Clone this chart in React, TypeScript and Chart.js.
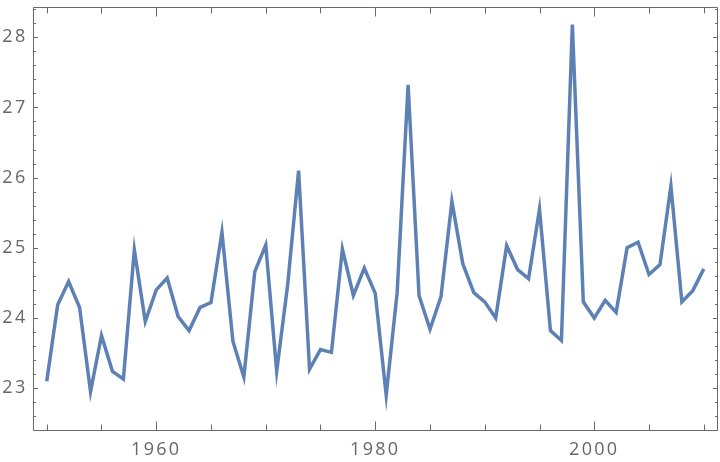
import React, { useEffect, useRef } from "react";
import { Chart, registerables } from "chart.js";

Chart.register(...registerables);

const years: number[] = [
  1950, 1951, 1952, 1953, 1954, 1955, 1956, 1957, 1958, 1959,
  1960, 1961, 1962, 1963, 1964, 1965, 1966, 1967, 1968, 1969,
  1970, 1971, 1972, 1973, 1974, 1975, 1976, 1977, 1978, 1979,
  1980, 1981, 1982, 1983, 1984, 1985, 1986, 1987, 1988, 1989,
  1990, 1991, 1992, 1993, 1994, 1995, 1996, 1997, 1998, 1999,
  2000, 2001, 2002, 2003, 2004, 2005, 2006, 2007, 2008, 2009, 2010,
];

const values: number[] = [
  23.1, 24.19, 24.52, 24.15, 22.95, 23.75, 23.24, 23.13, 24.97, 23.95,
  24.4, 24.57, 24.02, 23.82, 24.15, 24.22, 25.22, 23.67, 23.16, 24.66,
  25.04, 23.24, 24.47, 26.1, 23.27, 23.55, 23.51, 24.98, 24.32, 24.71,
  24.35, 22.9, 24.36, 27.32, 24.32, 23.84, 24.3, 25.66, 24.77, 24.36,
  24.23, 24.0, 25.03, 24.69, 24.56, 25.55, 23.82, 23.68, 28.18, 24.23,
  24.0, 24.25, 24.08, 25.0, 25.08, 24.62, 24.76, 25.88, 24.23, 24.39, 24.7,
];

const xMajorTicks: number[] = [1960, 1980, 2000];
const xMinorTicks: number[] = [1950, 1955, 1965, 1970, 1975, 1985, 1990, 1995, 2005, 2010];
const yMajorTicks: number[] = [23, 24, 25, 26, 27, 28];
const yMinorTicks: number[] = [];
for (let v = 22.4; v <= 28.41; v += 0.2) {
  const r = Math.round(v * 10) / 10;
  if (Math.abs(r - Math.round(r)) > 1e-6) yMinorTicks.push(r);
}

const LINE_COLOR = "#5E81B5";
const FRAME_COLOR = "#6a6a6a";
const LABEL_COLOR = "#666666";

const spacingPlugin = {
  id: "letterSpacing",
  beforeDraw(chart: any) {
    chart.ctx.letterSpacing = "2.3px";
  },
  afterDraw(chart: any) {
    chart.ctx.letterSpacing = "0px";
  },
};

const framePlugin = {
  id: "mmaFrame",
  afterDraw(chart: any) {
    const { ctx, chartArea } = chart;
    const xs = chart.scales.x;
    const ys = chart.scales.y;
    const { left, right, top, bottom } = chartArea;
    ctx.save();
    ctx.strokeStyle = FRAME_COLOR;
    ctx.lineWidth = 1;
    ctx.beginPath();
    const L = Math.round(left) + 0.5;
    const R = Math.round(right) - 0.5;
    const T = Math.round(top) + 0.5;
    const B = Math.round(bottom) - 0.5;
    ctx.rect(L, T, R - L, B - T);
    const xt = (v: number, len: number) => {
      const px = Math.round(xs.getPixelForValue(v)) + 0.5;
      ctx.moveTo(px, B);
      ctx.lineTo(px, B - len);
      ctx.moveTo(px, T);
      ctx.lineTo(px, T + len);
    };
    const yt = (v: number, len: number) => {
      const py = Math.round(ys.getPixelForValue(v)) + 0.5;
      ctx.moveTo(L, py);
      ctx.lineTo(L + len, py);
      ctx.moveTo(R, py);
      ctx.lineTo(R - len, py);
    };
    xMajorTicks.forEach((v) => xt(v, 9));
    xMinorTicks.forEach((v) => xt(v, 6));
    yMajorTicks.forEach((v) => yt(v, 4.5));
    yMinorTicks.forEach((v) => yt(v, 2.5));
    ctx.stroke();
    ctx.restore();
  },
};

export default function App() {
  const ref = useRef<HTMLCanvasElement | null>(null);
  useEffect(() => {
    if (!ref.current) return;
    const chart = new Chart(ref.current, {
      type: "line",
      data: {
        datasets: [
          {
            data: years.map((y, i) => ({ x: y, y: values[i] })),
            borderColor: LINE_COLOR,
            borderWidth: 3.5,
            pointRadius: 0,
            tension: 0,
            fill: false,
          },
        ],
      },
      options: {
        animation: false,
        responsive: false,
        events: [],
        layout: { padding: { top: 7, right: 2, left: 0, bottom: 0 } },
        plugins: { legend: { display: false }, tooltip: { enabled: false } },
        scales: {
          x: {
            type: "linear",
            min: 1948.7,
            max: 2011.3,
            grid: { display: false, drawTicks: false },
            border: { display: false },
            afterBuildTicks: (s: any) => {
              s.ticks = xMajorTicks.map((v) => ({ value: v }));
            },
            afterFit: (s: any) => {
              s.height = 31;
              s.paddingLeft = 0;
              s.paddingRight = 0;
            },
            ticks: {
              color: LABEL_COLOR,
              font: { family: "'Open Sans'", size: 18 },
              padding: 8,
              maxRotation: 0,
              callback: (v: any) => String(v),
            },
          },
          y: {
            type: "linear",
            min: 22.39,
            max: 28.43,
            grid: { display: false, drawTicks: false },
            border: { display: false },
            afterBuildTicks: (s: any) => {
              s.ticks = yMajorTicks.map((v) => ({ value: v }));
            },
            afterFit: (s: any) => {
              s.width = 32.5;
              s.paddingTop = 0;
              s.paddingBottom = 0;
            },
            ticks: {
              color: LABEL_COLOR,
              font: { family: "'Open Sans'", size: 18 },
              padding: 5,
              callback: (v: any) => String(v),
            },
          },
        },
      },
      plugins: [spacingPlugin, framePlugin],
    });
    return () => chart.destroy();
  }, []);
  return (
    <div style={{ position: "fixed", left: 0, top: 0, width: 720, height: 462, background: "#fff" }}>
      <canvas ref={ref} width={720} height={462} style={{ width: 720, height: 462 }} />
    </div>
  );
}
